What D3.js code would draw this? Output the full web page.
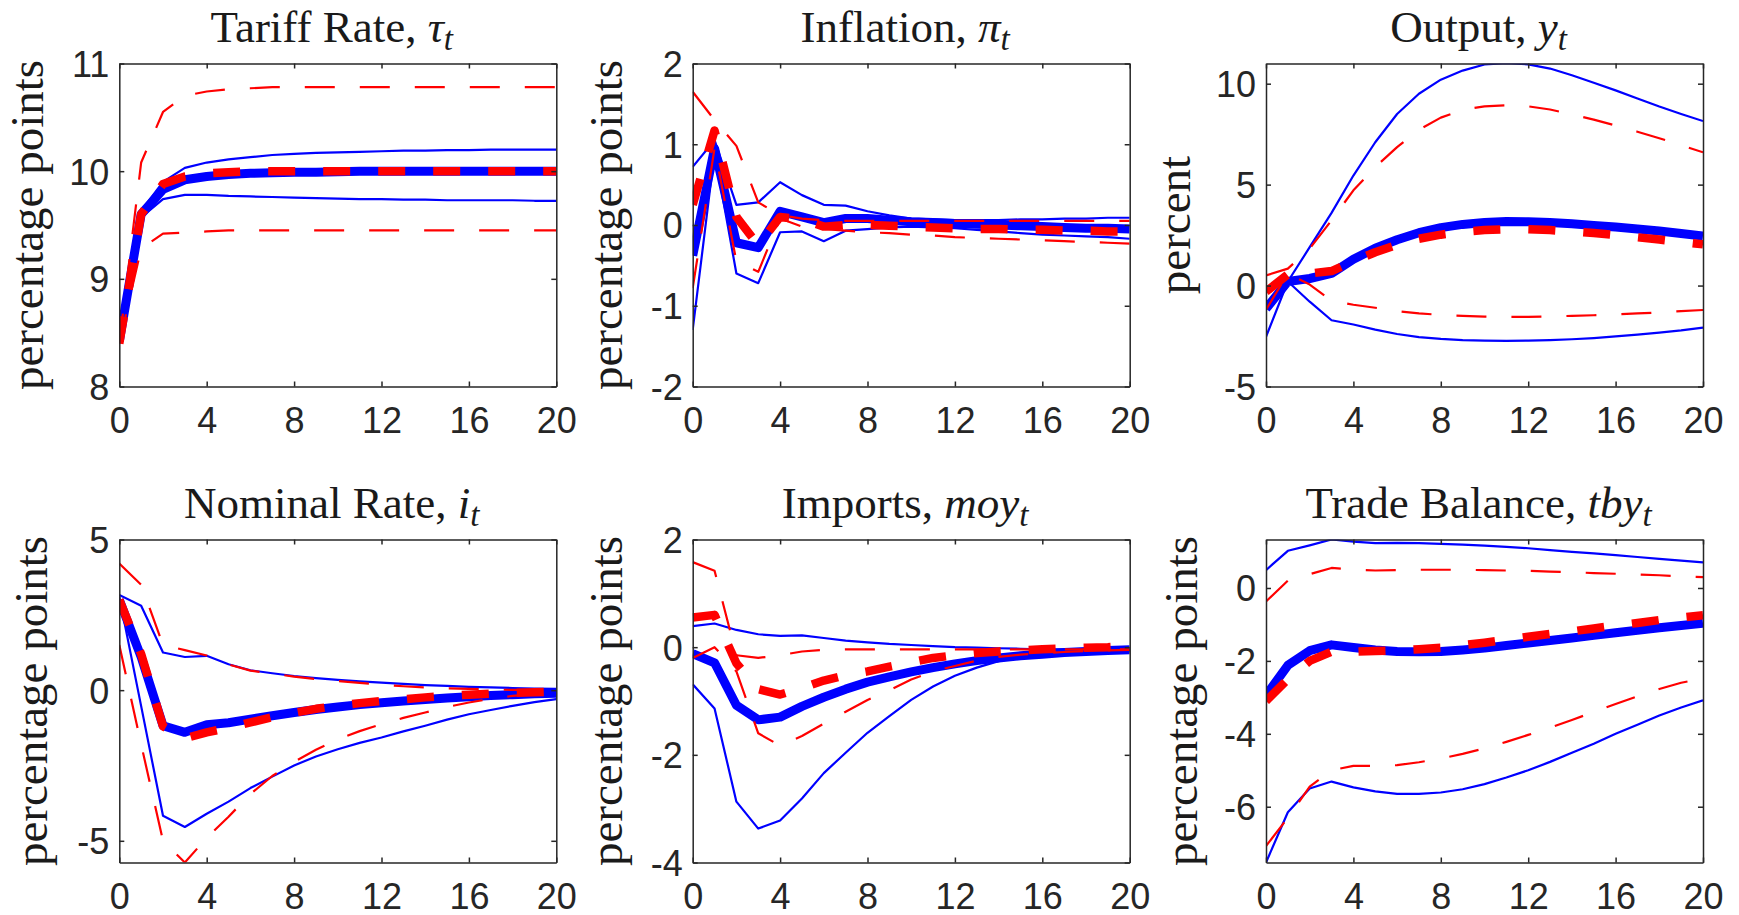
<!DOCTYPE html>
<html><head><meta charset="utf-8">
<script src="https://cdn.jsdelivr.net/npm/d3@7"></script>
<style>body{margin:0;background:#fff} svg{display:block}</style>
</head><body>
<svg id="chart" width="1739" height="915"></svg>
<script>
const horizon = [0,1,2,3,4,5,6,7,8,9,10,11,12,13,14,15,16,17,18,19,20];
const xTickValues = [0,4,8,12,16,20];

// Tariff rate
const tariffBlueMed = [8.42,9.6,9.83,9.92,9.95,9.97,9.98,9.985,9.99,9.99,9.995,10,10,10,10,10,10,10,10,10,10];
const tariffBlueLow = [8.42,9.57,9.74,9.78,9.78,9.77,9.765,9.76,9.755,9.75,9.745,9.74,9.74,9.735,9.735,9.73,9.73,9.73,9.73,9.725,9.725];
const tariffBlueUp  = [8.42,9.63,9.9,10.03,10.08,10.11,10.13,10.15,10.16,10.17,10.175,10.18,10.185,10.19,10.19,10.195,10.195,10.2,10.2,10.2,10.2];
const tariffRedMed  = [8.4,9.6,9.88,9.95,9.98,9.99,10,10,10,10,10,10,10,10,10,10,10,10,10,10,10];
const tariffRedLow  = [8.4,9.28,9.42,9.43,9.44,9.45,9.45,9.45,9.45,9.45,9.45,9.45,9.45,9.45,9.45,9.45,9.45,9.45,9.45,9.45,9.45];
const tariffRedUp   = [8.4,10.08,10.55,10.7,10.74,10.76,10.77,10.78,10.78,10.78,10.78,10.78,10.78,10.78,10.78,10.78,10.78,10.78,10.78,10.78,10.78];

// Inflation
const inflBlueMed = [-0.38,0.95,-0.22,-0.28,0.17,0.1,0.03,0.08,0.08,0.06,0.04,0.03,0.02,0.01,0,-0.01,-0.02,-0.03,-0.04,-0.04,-0.05];
const inflBlueLow = [-1.3,0.9,-0.6,-0.72,-0.09,-0.08,-0.2,-0.07,-0.05,-0.03,-0.02,-0.03,-0.04,-0.06,-0.08,-0.1,-0.12,-0.13,-0.14,-0.15,-0.17];
const inflBlueUp  = [0.72,1.05,0.25,0.28,0.53,0.37,0.25,0.24,0.17,0.12,0.08,0.07,0.06,0.06,0.06,0.07,0.07,0.08,0.08,0.09,0.09];
const inflRedMed  = [0.25,1.17,0.1,-0.25,0.1,0.07,-0.02,0,0,-0.01,-0.02,-0.03,-0.04,-0.05,-0.05,-0.06,-0.06,-0.07,-0.07,-0.08,-0.08];
const inflRedLow  = [-0.78,0.95,-0.45,-0.58,0.08,-0.02,-0.05,-0.07,-0.09,-0.1,-0.12,-0.13,-0.15,-0.16,-0.17,-0.18,-0.19,-0.2,-0.21,-0.22,-0.23];
const inflRedUp   = [1.65,1.3,0.98,0.28,0.12,0.08,0.06,0.05,0.05,0.05,0.05,0.05,0.05,0.05,0.05,0.05,0.05,0.05,0.05,0.05,0.05];

// Output
const outBlueMed = [-1.15,0.2,0.35,0.6,1.3,1.85,2.27,2.62,2.87,3.03,3.12,3.17,3.16,3.12,3.06,2.98,2.9,2.8,2.7,2.58,2.45];
const outBlueLow = [-1.1,0.2,-0.8,-1.72,-1.93,-2.18,-2.4,-2.55,-2.64,-2.7,-2.73,-2.74,-2.73,-2.7,-2.66,-2.6,-2.52,-2.43,-2.33,-2.22,-2.08];
const outBlueUp  = [-2.54,0.2,1.9,3.6,5.45,7.1,8.5,9.5,10.2,10.65,10.95,11.02,10.96,10.75,10.42,10.05,9.67,9.27,8.87,8.5,8.15];
const outRedMed  = [-0.3,0.55,0.6,0.72,1.2,1.65,2.02,2.32,2.52,2.66,2.75,2.79,2.79,2.75,2.68,2.6,2.5,2.39,2.28,2.16,2.04];
const outRedLow  = [-1.2,0.6,0.05,-0.75,-0.95,-1.1,-1.27,-1.38,-1.45,-1.5,-1.54,-1.55,-1.55,-1.53,-1.5,-1.47,-1.43,-1.38,-1.33,-1.27,-1.21];
const outRedUp   = [0.5,0.84,1.83,3.23,4.72,5.87,6.86,7.72,8.32,8.7,8.88,8.93,8.88,8.72,8.48,8.22,7.93,7.62,7.3,6.95,6.6];

// Nominal rate
const nomBlueMed = [3.0,1.1,-1.18,-1.4,-1.15,-1.08,-0.96,-0.85,-0.74,-0.64,-0.56,-0.48,-0.42,-0.36,-0.31,-0.26,-0.22,-0.18,-0.15,-0.12,-0.1];
const nomBlueLow = [3.1,-0.53,-4.17,-4.54,-4.1,-3.7,-3.25,-2.87,-2.5,-2.2,-1.96,-1.75,-1.57,-1.37,-1.18,-0.98,-0.8,-0.66,-0.52,-0.4,-0.3];
const nomBlueUp  = [3.16,2.8,1.25,1.1,1.14,0.86,0.66,0.56,0.47,0.4,0.34,0.29,0.25,0.21,0.17,0.14,0.11,0.09,0.07,0.05,0.04];
const nomRedMed  = [3.0,1.2,-1.2,-1.6,-1.4,-1.25,-1.07,-0.9,-0.75,-0.62,-0.52,-0.43,-0.36,-0.3,-0.24,-0.19,-0.15,-0.12,-0.09,-0.07,-0.05];
const nomRedLow  = [1.5,-1.8,-5.0,-5.72,-4.9,-4.2,-3.45,-2.85,-2.38,-1.98,-1.63,-1.36,-1.13,-0.92,-0.74,-0.56,-0.41,-0.29,-0.19,-0.13,-0.08];
const nomRedUp   = [4.2,3.5,1.5,1.33,1.15,0.85,0.65,0.55,0.45,0.37,0.3,0.24,0.18,0.13,0.09,0.06,0.04,0.02,0.01,0,-0.01];

// Imports
const impBlueMed = [-0.12,-0.29,-1.08,-1.35,-1.3,-1.1,-0.93,-0.78,-0.65,-0.55,-0.46,-0.38,-0.31,-0.25,-0.2,-0.16,-0.13,-0.1,-0.08,-0.06,-0.05];
const impBlueLow = [-0.69,-1.14,-2.87,-3.37,-3.22,-2.81,-2.34,-1.96,-1.59,-1.28,-0.98,-0.73,-0.53,-0.38,-0.26,-0.18,-0.13,-0.1,-0.09,-0.08,-0.08];
const impBlueUp  = [0.39,0.44,0.32,0.24,0.21,0.22,0.17,0.12,0.09,0.06,0.04,0.02,0,-0.01,-0.02,-0.03,-0.04,-0.04,-0.05,-0.05,-0.05];
const impRedMed  = [0.55,0.6,-0.3,-0.78,-0.88,-0.76,-0.62,-0.52,-0.45,-0.36,-0.28,-0.2,-0.15,-0.11,-0.08,-0.06,-0.04,-0.02,-0.01,0,0.02];
const impRedLow  = [-0.2,0,-0.45,-1.6,-1.83,-1.65,-1.42,-1.2,-0.98,-0.8,-0.6,-0.45,-0.35,-0.25,-0.18,-0.14,-0.11,-0.09,-0.07,-0.06,-0.05];
const impRedUp   = [1.58,1.42,-0.15,-0.2,-0.15,-0.08,-0.05,-0.04,-0.04,-0.04,-0.04,-0.04,-0.04,-0.04,-0.04,-0.04,-0.04,-0.04,-0.04,-0.04,-0.04];

// Trade balance
const tbBlueMed = [-2.95,-2.12,-1.72,-1.56,-1.63,-1.7,-1.74,-1.75,-1.74,-1.7,-1.65,-1.58,-1.51,-1.44,-1.37,-1.3,-1.23,-1.16,-1.09,-1.03,-0.97];
const tbBlueLow = [-7.53,-6.15,-5.5,-5.31,-5.47,-5.58,-5.65,-5.65,-5.61,-5.52,-5.38,-5.2,-5.0,-4.77,-4.52,-4.27,-4.0,-3.75,-3.5,-3.28,-3.08];
const tbBlueUp  = [0.49,1.02,1.17,1.33,1.27,1.23,1.24,1.23,1.21,1.19,1.16,1.13,1.09,1.04,0.99,0.95,0.9,0.85,0.8,0.75,0.7];
const tbRedMed  = [-3.1,-2.5,-2.0,-1.75,-1.75,-1.73,-1.71,-1.68,-1.64,-1.57,-1.5,-1.42,-1.34,-1.26,-1.19,-1.11,-1.03,-0.96,-0.88,-0.81,-0.75];
const tbRedLow  = [-7.08,-6.3,-5.45,-5.0,-4.88,-4.88,-4.86,-4.78,-4.68,-4.55,-4.4,-4.22,-4.03,-3.83,-3.62,-3.4,-3.18,-2.97,-2.77,-2.6,-2.48];
const tbRedUp   = [-0.37,0.2,0.38,0.55,0.5,0.48,0.49,0.5,0.5,0.5,0.49,0.48,0.47,0.45,0.43,0.41,0.39,0.37,0.35,0.32,0.3];

const titleTexts = ["Tariff Rate, ","Inflation, ","Output, ","Nominal Rate, ","Imports, ","Trade Balance, "];
const titleVars  = ["τ","π","y","i","moy","tby"];
const titleSubs  = ["t","t","t","t","t","t"];
const yLabels    = ["percentage points","percentage points","percent","percentage points","percentage points","percentage points"];
const yDomains   = [[8,11],[-2,2],[-5,11.0],[-5.72,5],[-4,2],[-7.53,1.33]];
const yTickValues= [[8,9,10,11],[-2,-1,0,1,2],[-5,0,5,10],[-5,0,5],[-4,-2,0,2],[-6,-4,-2,0]];

const seriesByPanel = [
  {blueMed:tariffBlueMed, blueLow:tariffBlueLow, blueUp:tariffBlueUp, redMed:tariffRedMed, redLow:tariffRedLow, redUp:tariffRedUp},
  {blueMed:inflBlueMed, blueLow:inflBlueLow, blueUp:inflBlueUp, redMed:inflRedMed, redLow:inflRedLow, redUp:inflRedUp},
  {blueMed:outBlueMed, blueLow:outBlueLow, blueUp:outBlueUp, redMed:outRedMed, redLow:outRedLow, redUp:outRedUp},
  {blueMed:nomBlueMed, blueLow:nomBlueLow, blueUp:nomBlueUp, redMed:nomRedMed, redLow:nomRedLow, redUp:nomRedUp},
  {blueMed:impBlueMed, blueLow:impBlueLow, blueUp:impBlueUp, redMed:impRedMed, redLow:impRedLow, redUp:impRedUp},
  {blueMed:tbBlueMed, blueLow:tbBlueLow, blueUp:tbBlueUp, redMed:tbRedMed, redLow:tbRedLow, redUp:tbRedUp}
];

// layout
const colLeft = [119.3, 692.7, 1266];
const rowTop = [63.5, 539.5];
const PW = 437, PH = 323;
const ylabelX = [43, 622, 1190, 47, 622, 1197];
const axisColor = "#262626";
const tickFont = "'Liberation Sans', Arial, Helvetica, sans-serif";
const serifFont = "'Liberation Serif', 'Times New Roman', serif";

const svg = d3.select("#chart");

seriesByPanel.forEach((s, i) => {
  const left = colLeft[i % 3], top = rowTop[Math.floor(i / 3)];
  const x = d3.scaleLinear().domain([0, 20]).range([0, PW]);
  const y = d3.scaleLinear().domain(yDomains[i]).range([PH, 0]);
  const g = svg.append("g").attr("transform", `translate(${left},${top})`);

  const clipId = "clip" + i;
  g.append("clipPath").attr("id", clipId).append("rect")
    .attr("x", 0).attr("y", 0).attr("width", PW).attr("height", PH);

  const line = d3.line().x((d, k) => x(horizon[k])).y(d => y(d));
  const plot = g.append("g").attr("clip-path", `url(#${clipId})`);

  const styles = [
    {data: s.blueUp,  color: "#0000ff", w: 2.2, dash: null},
    {data: s.blueLow, color: "#0000ff", w: 2.2, dash: null},
    {data: s.blueMed, color: "#0000ff", w: 9,   dash: null},
    {data: s.redUp,   color: "#ff0000", w: 2.2, dash: "30,25"},
    {data: s.redLow,  color: "#ff0000", w: 2.2, dash: "30,25"},
    {data: s.redMed,  color: "#ff0000", w: 8.5, dash: "27,28"}
  ];
  styles.forEach(st => {
    plot.append("path").datum(st.data)
      .attr("d", line)
      .attr("fill", "none")
      .attr("stroke", st.color)
      .attr("stroke-width", st.w)
      .attr("stroke-linejoin", "round")
      .attr("stroke-dasharray", st.dash);
  });

  // axes
  const fmt = d => String(d);
  const xb = g.append("g").attr("transform", `translate(0,${PH})`)
    .call(d3.axisBottom(x).tickValues(xTickValues).tickSizeInner(-5).tickSizeOuter(0).tickPadding(20).tickFormat(fmt));
  const xt = g.append("g")
    .call(d3.axisTop(x).tickValues(xTickValues).tickSizeInner(-5).tickSizeOuter(0).tickFormat(""));
  const yl = g.append("g")
    .call(d3.axisLeft(y).tickValues(yTickValues[i]).tickSizeInner(-5).tickSizeOuter(0).tickPadding(10).tickFormat(fmt));
  const yr = g.append("g").attr("transform", `translate(${PW},0)`)
    .call(d3.axisRight(y).tickValues(yTickValues[i]).tickSizeInner(-5).tickSizeOuter(0).tickFormat(""));
  [xb, xt, yl, yr].forEach(a => {
    a.attr("color", axisColor).attr("font-family", tickFont).attr("font-size", 36);
    a.selectAll("path.domain").attr("stroke-width", 1.5);
    a.selectAll(".tick line").attr("stroke-width", 1.5);
  });
  xb.selectAll(".tick text").attr("dy", null).attr("y", 46);
  yl.selectAll(".tick text").attr("dy", "0.36em");

  // title
  const t = svg.append("text")
    .attr("x", left + PW / 2 - 6).attr("y", top - 21.5)
    .attr("text-anchor", "middle")
    .attr("font-family", serifFont).attr("font-size", 45).attr("fill", "#1a1a1a");
  t.append("tspan").text(titleTexts[i]);
  t.append("tspan").attr("font-style", "italic").text(titleVars[i]);
  t.append("tspan").attr("font-style", "italic").attr("font-size", 33).attr("dy", 8).text(titleSubs[i]);

  // y label
  svg.append("text")
    .attr("transform", `translate(${ylabelX[i]},${top + PH / 2}) rotate(-90)`)
    .attr("text-anchor", "middle")
    .attr("font-family", serifFont).attr("font-size", 47).attr("fill", "#1a1a1a")
    .text(yLabels[i]);
});
</script>
</body></html>
